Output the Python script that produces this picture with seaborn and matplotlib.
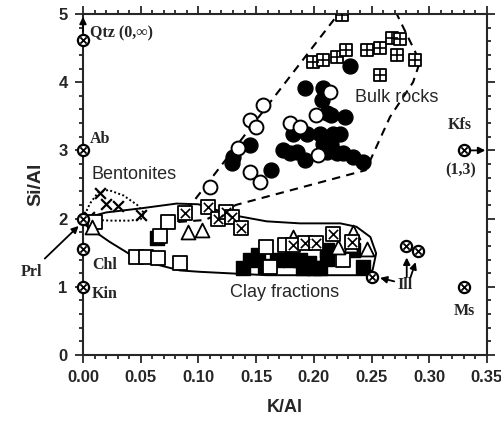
import numpy as np
import pandas as pd
import matplotlib.pyplot as plt
import seaborn as sns
from matplotlib.ticker import MultipleLocator

# reference minerals (circle-cross symbols)
mineral_names = ["Qtz", "Ab", "Prl", "Chl", "Kin", "Kfs", "Ms", "Ill", "Ill", "Ill"]
mineral_ka = [0.0, 0.0, 0.0, 0.0, 0.0, 0.33, 0.33, 0.25, 0.28, 0.29]
mineral_sa = [4.62, 3.0, 2.0, 1.55, 1.0, 3.0, 1.0, 1.15, 1.6, 1.52]

# bulk rocks
bulk_plus_ka = [0.224, 0.199, 0.208, 0.220, 0.228, 0.246, 0.257, 0.268, 0.275, 0.272, 0.288, 0.257]
bulk_plus_sa = [4.98, 4.30, 4.33, 4.37, 4.47, 4.47, 4.50, 4.65, 4.63, 4.40, 4.33, 4.11]
bulk_filled_ka = [0.231, 0.192, 0.208, 0.207, 0.211, 0.215, 0.227, 0.145, 0.130, 0.129, 0.163,
                  0.182, 0.194, 0.205, 0.217, 0.223, 0.208, 0.215, 0.173, 0.179, 0.185,
                  0.211, 0.220, 0.225, 0.192, 0.234, 0.243]
bulk_filled_sa = [4.23, 3.91, 3.91, 3.74, 3.55, 3.52, 3.49, 3.08, 2.90, 2.81, 2.71,
                  3.24, 3.24, 3.24, 3.24, 3.24, 3.10, 3.10, 3.00, 2.96, 2.98,
                  2.98, 2.96, 2.96, 2.86, 2.91, 2.83]
bulk_open_ka = [0.156, 0.145, 0.150, 0.134, 0.145, 0.153, 0.110, 0.214, 0.202, 0.179, 0.188, 0.204]
bulk_open_sa = [3.67, 3.45, 3.35, 3.03, 2.69, 2.54, 2.47, 3.86, 3.52, 3.40, 3.35, 2.93]

# bentonites
bent_ka = [0.015, 0.020, 0.030, 0.050, 0.005]
bent_sa = [2.37, 2.22, 2.19, 2.06, 2.03]

# clay fractions
clay_open_ka = [0.074, 0.010, 0.067, 0.046, 0.055, 0.065, 0.084, 0.159, 0.175, 0.162, 0.225]
clay_open_sa = [1.95, 1.95, 1.74, 1.44, 1.44, 1.42, 1.35, 1.59, 1.61, 1.29, 1.39]
clay_filled_ka = [0.064, 0.139, 0.145, 0.152, 0.168, 0.179, 0.188, 0.191, 0.200, 0.205,
                  0.211, 0.234, 0.243, 0.211, 0.158, 0.196]
clay_filled_sa = [1.71, 1.27, 1.39, 1.47, 1.39, 1.39, 1.39, 1.27, 1.27, 1.27,
                  1.54, 1.54, 1.29, 1.41, 1.30, 1.35]
clay_tri_ka = [0.091, 0.103, 0.0075, 0.182, 0.234, 0.246, 0.221, 0.232]
clay_tri_sa = [1.81, 1.83, 1.88, 1.73, 1.81, 1.56, 1.59, 1.62]
clay_x_ka = [0.088, 0.108, 0.117, 0.124, 0.129, 0.137, 0.182, 0.192, 0.202, 0.217, 0.233]
clay_x_sa = [2.08, 2.17, 2.00, 2.10, 2.03, 1.86, 1.61, 1.64, 1.64, 1.78, 1.66]

# envelopes
bulk_env_ka = [0.082, 0.2226, 0.271, 0.292, 0.286, 0.266, 0.245, 0.1325, 0.106, 0.082]
bulk_env_sa = [1.95, 5.03, 5.03, 4.30, 4.00, 3.49, 2.71, 2.20, 1.98, 1.95]
bent_env_ka = [0.0, 0.006, 0.013, 0.022, 0.035, 0.047, 0.053, 0.050, 0.040, 0.025, 0.010, 0.0]
bent_env_sa = [2.0, 2.22, 2.38, 2.42, 2.34, 2.20, 2.08, 1.99, 1.97, 1.97, 1.98, 2.0]
clay_env_ka = [0.0, 0.02, 0.05, 0.081, 0.10, 0.13, 0.159, 0.188, 0.223, 0.237, 0.249, 0.254,
               0.251, 0.246, 0.217, 0.159, 0.101, 0.084, 0.049, 0.023, 0.0]
clay_env_sa = [2.0, 2.09, 2.15, 2.22, 2.21, 2.05, 1.96, 1.93, 1.93, 1.88, 1.73, 1.49,
               1.25, 1.17, 1.17, 1.17, 1.22, 1.24, 1.39, 1.66, 1.93]

sns.set_style("ticks")
plt.rcParams["font.family"] = ["Liberation Sans", "DejaVu Sans"]

fig = plt.figure(figsize=(5.02, 4.25), dpi=100)
ax = fig.add_axes([0.1653, 0.1647, 0.8047, 0.8024])

# envelopes
ax.plot(bulk_env_ka, bulk_env_sa, ls=(0, (4, 3)), color="black", lw=1.5)
ax.plot(bent_env_ka, bent_env_sa, ls=(0, (1, 1.2)), color="black", lw=1.4)
ax.plot(clay_env_ka, clay_env_sa, ls="-", color="black", lw=1.4)

kw = dict(ax=ax, color="black", legend=False, zorder=3)
sns.scatterplot(x=bulk_filled_ka, y=bulk_filled_sa, marker="o", s=115, edgecolor="black", linewidth=1, **kw)
sns.scatterplot(x=bulk_open_ka, y=bulk_open_sa, marker="o", s=100, facecolor="white",
                edgecolor="black", linewidth=1.4, ax=ax, legend=False, zorder=4)
sns.scatterplot(x=bulk_plus_ka, y=bulk_plus_sa, marker="s", s=80, facecolor="white",
                edgecolor="black", linewidth=1.3, ax=ax, legend=False, zorder=4)
sns.scatterplot(x=bulk_plus_ka, y=bulk_plus_sa, marker="+", s=70, linewidth=1.2, **{**kw, "zorder": 5})

sns.scatterplot(x=bent_ka, y=bent_sa, marker="x", s=60, linewidth=1.6, **kw)

sns.scatterplot(x=clay_filled_ka, y=clay_filled_sa, marker="s", s=115, edgecolor="black", linewidth=1, **kw)
sns.scatterplot(x=clay_open_ka, y=clay_open_sa, marker="s", s=110, facecolor="white",
                edgecolor="black", linewidth=1.3, ax=ax, legend=False, zorder=4)
sns.scatterplot(x=clay_tri_ka, y=clay_tri_sa, marker="^", s=100, facecolor="white",
                edgecolor="black", linewidth=1.3, ax=ax, legend=False, zorder=4)
sns.scatterplot(x=clay_x_ka, y=clay_x_sa, marker="s", s=90, facecolor="white",
                edgecolor="black", linewidth=1.3, ax=ax, legend=False, zorder=5)
sns.scatterplot(x=clay_x_ka, y=clay_x_sa, marker="x", s=45, linewidth=1.2, **{**kw, "zorder": 6})

# reference minerals
sns.scatterplot(x=mineral_ka, y=mineral_sa, marker="o", s=65, facecolor="white",
                edgecolor="black", linewidth=1.6, ax=ax, legend=False, zorder=6, clip_on=False)
sns.scatterplot(x=mineral_ka, y=mineral_sa, marker="x", s=20, linewidth=1.3, ax=ax,
                color="black", legend=False, zorder=7, clip_on=False)

serif = dict(family=["Liberation Serif", "DejaVu Serif"], fontsize=11.5, fontweight="bold")
arrow = dict(arrowstyle="-|>", color="black", lw=1.3, mutation_scale=10)
ax.annotate("", xy=(0.0, 5.0), xytext=(0.0, 4.7), arrowprops=arrow, annotation_clip=False)
ax.text(0.006, 4.72, "Qtz (0,\u221e)", va="center", **serif)
ax.text(0.006, 3.17, "Ab", va="center", **serif)
ax.text(0.008, 1.32, "Chl", va="center", **serif)
ax.text(0.008, 0.90, "Kin", va="center", **serif)
ax.annotate("Prl", xy=(-0.002, 1.92), xytext=(-0.045, 1.22), ha="center", va="center",
            arrowprops=arrow, annotation_clip=False, **serif)
ax.text(0.326, 3.37, "Kfs", ha="center", va="center", **serif)
ax.text(0.327, 2.70, "(1,3)", ha="center", va="center", **serif)
ax.annotate("", xy=(0.351, 3.0), xytext=(0.334, 3.0), arrowprops=arrow, annotation_clip=False)
ax.text(0.330, 0.64, "Ms", ha="center", va="center", **serif)
ax.text(0.279, 1.02, "Ill", ha="center", va="center", **serif)
ax.annotate("", xy=(0.255, 1.14), xytext=(0.272, 1.07), arrowprops=arrow)
ax.annotate("", xy=(0.2805, 1.47), xytext=(0.2805, 1.10), arrowprops=arrow)
ax.annotate("", xy=(0.289, 1.40), xytext=(0.283, 1.10), arrowprops=arrow)

sans = dict(fontsize=13)
ax.text(0.007, 2.64, "Bentonites", va="center", **sans)
ax.text(0.236, 3.77, "Bulk rocks", va="center", **sans)
ax.text(0.127, 0.92, "Clay fractions", va="center", **sans)

ax.set_xlim(0, 0.35)
ax.set_ylim(0, 5)
ax.xaxis.set_major_locator(MultipleLocator(0.05))
ax.xaxis.set_minor_locator(MultipleLocator(0.01))
ax.yaxis.set_major_locator(MultipleLocator(1))
ax.yaxis.set_minor_locator(MultipleLocator(0.2))
ax.xaxis.set_major_formatter(lambda v, p: f"{v:.2f}")
ax.tick_params(which="both", direction="out", top=True, right=True, width=1.3,
               labelsize=12, pad=5)
ax.tick_params(which="major", length=6)
ax.tick_params(which="minor", length=3)
for lab in ax.get_xticklabels() + ax.get_yticklabels():
    lab.set_fontweight("bold")
for sp in ax.spines.values():
    sp.set_linewidth(1.5)
ax.set_xlabel("K/Al", fontsize=13, fontweight="bold", labelpad=10)
ax.set_ylabel("Si/Al", fontsize=14, fontweight="bold", labelpad=10)

plt.savefig("out.png", dpi=100)
